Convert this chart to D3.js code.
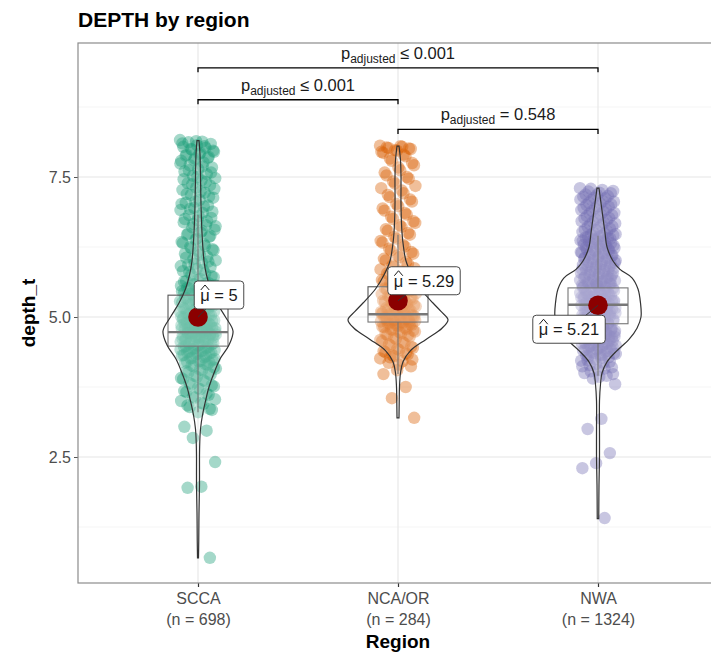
<!DOCTYPE html>
<html>
<head>
<meta charset="utf-8">
<script src="https://cdn.jsdelivr.net/npm/d3@7"></script>
<style>
body { margin: 0; background: #ffffff; }
text { font-family: "Liberation Sans", Arial, sans-serif; }
</style>
</head>
<body>
<div id="chart"></div>
<script>
// groups, counts and summary stats
var regions = ["SCCA", "NCA/OR", "NWA"];
var regionN = [698, 284, 1324];
var regionColor = ["#1B9E77", "#D95F02", "#7570B3"];
var means = [5.00, 5.29, 5.21];
var meanLabels = ["5", "5.29", "5.21"];
var q1 = [4.48, 4.91, 4.88];
var medians = [4.73, 5.05, 5.22];
var q3 = [5.39, 5.54, 5.52];
var whiskerLo = [3.30, 3.98, 3.95];
var whiskerHi = [6.82, 6.47, 6.45];
var yTicks = [2.5, 5.0, 7.5];
var yMinor = [1.25, 3.75, 6.25, 8.75];

// pairwise comparisons
var pairFrom = ["SCCA", "SCCA", "NCA/OR"];
var pairTo = ["NWA", "NCA/OR", "NWA"];
var pairY = [9.45, 8.88, 8.35];
var pairP = ["\u2264 0.001", "\u2264 0.001", "= 0.548"];

// depth_t values
var sccaDepth = [8.16, 8.13, 8.12, 8.09, 8.07, 8.04, 8.02, 7.99, 7.95, 7.93, 7.9, 7.86, 7.83, 7.79, 7.76, 7.71, 7.67, 7.64, 7.6, 7.55,
  7.52, 7.48, 7.44, 7.39, 7.35, 7.31, 7.27, 7.22, 7.18, 7.13, 7.09, 7.04, 6.99, 6.95, 6.91, 6.86, 6.82, 6.77, 6.73, 6.69,
  6.64, 6.6, 6.56, 6.51, 6.47, 6.43, 6.38, 6.34, 6.3, 6.25, 6.21, 6.17, 6.13, 6.08, 6.04, 6.01, 5.97, 5.93, 5.89, 5.86,
  5.82, 5.78, 5.75, 5.71, 5.68, 5.64, 5.61, 5.58, 5.56, 5.54, 5.51, 5.49, 5.47, 5.44, 5.42, 5.4, 5.38, 5.35, 5.33, 5.31,
  5.29, 5.26, 5.24, 5.22, 5.2, 5.18, 5.15, 5.13, 5.11, 5.09, 5.07, 5.05, 5.03, 5.01, 4.99, 4.97, 4.96, 4.94, 4.92, 4.9,
  4.88, 4.87, 4.85, 4.84, 4.82, 4.81, 4.79, 4.78, 4.77, 4.75, 4.74, 4.73, 4.71, 4.7, 4.69, 4.67, 4.66, 4.65, 4.63, 4.62,
  4.6, 4.59, 4.57, 4.56, 4.54, 4.52, 4.51, 4.49, 4.47, 4.45, 4.43, 4.41, 4.39, 4.37, 4.35, 4.33, 4.31, 4.28, 4.26, 4.23,
  4.21, 4.18, 4.15, 4.12, 4.08, 4.05, 4.01, 3.97, 3.93, 3.89, 3.85, 3.8, 3.76, 3.71, 3.66, 3.61, 3.56, 3.5, 3.45, 3.39,
  3.34, 3.3, 3.04, 2.97, 2.84, 2.41, 1.97, 1.95, 0.7,
  8.14, 8.1, 8.05, 8.0, 7.97, 7.91, 7.88, 7.84, 7.8, 7.74, 7.69, 7.62, 7.58, 7.5, 7.46, 7.41, 7.37, 7.29, 7.24, 7.2,
  7.15, 7.06, 7.02, 6.97, 6.93, 6.88, 6.8, 6.75, 6.71, 6.66, 6.62, 6.54, 6.49, 6.45, 6.4, 6.32, 6.27, 6.23, 6.19, 6.11,
  6.06, 5.99, 5.95, 5.91, 5.84, 5.8, 5.73, 5.66, 5.63, 5.6, 5.59, 5.57, 5.55, 5.52, 5.5, 5.48, 5.46, 5.43, 5.41, 5.39,
  5.36, 5.34, 5.32, 5.3, 5.28, 5.25, 5.23, 5.21, 5.19, 5.16, 5.14, 5.12, 5.1, 5.08, 5.06, 5.04, 5.02, 5.0, 4.98, 4.95,
  4.93, 4.91, 4.89, 4.86, 4.83, 4.8, 4.76, 4.72, 4.68, 4.64, 4.61, 4.58, 4.55, 4.53, 4.5, 4.48, 4.46, 4.44, 4.42, 4.4,
  4.38, 4.36, 4.34, 4.32, 4.3, 4.27, 4.25, 4.22, 4.2, 4.19, 4.83, 4.79, 4.75, 4.71, 4.67, 4.63, 4.59, 4.76, 4.72, 4.69,
  4.65, 4.8, 4.86, 4.9, 4.96, 4.16, 4.13, 4.1, 4.06, 4.03, 3.99, 3.95, 3.91, 3.87, 3.82, 3.78, 3.73, 3.68, 3.63, 3.58,
  3.53, 3.47, 3.42, 3.36];
var ncaDepth = [8.06, 8.04, 8.02, 8.0, 7.97, 7.93, 7.87, 7.79, 7.71, 7.62, 7.53, 7.47, 7.38, 7.3, 7.21, 7.14, 7.06, 6.98, 6.9, 6.83,
  6.75, 6.68, 6.61, 6.54, 6.47, 6.4, 6.33, 6.26, 6.19, 6.13, 6.07, 6.01, 5.95, 5.9, 5.85, 5.8, 5.76, 5.72, 5.68, 5.64,
  5.61, 5.58, 5.55, 5.52, 5.49, 5.46, 5.43, 5.41, 5.38, 5.35, 5.32, 5.3, 5.27, 5.24, 5.22, 5.19, 5.17, 5.14, 5.12, 5.1,
  5.08, 5.06, 5.04, 5.02, 5.0, 4.98, 4.96, 4.94, 4.92, 4.9, 4.88, 4.86, 4.84, 4.82, 4.79, 4.77, 4.74, 4.71, 4.68, 4.65,
  4.61, 4.57, 4.53, 4.49, 4.45, 4.41, 4.37, 4.33, 4.3, 4.26, 4.21, 4.18, 4.12, 4.05, 3.98, 3.75, 3.55, 3.2,
  8.05, 8.03, 8.01, 7.98, 7.95, 7.9, 7.83, 7.75, 7.67, 7.58, 7.5, 7.42, 7.34, 7.26, 7.18, 7.1, 7.02, 6.94, 6.86, 6.79,
  6.71, 6.64, 6.57, 6.5, 6.43, 6.36, 6.29, 6.22, 6.16, 6.1, 6.04, 5.98, 5.92, 5.87, 5.82, 5.78, 5.74, 5.7, 5.66, 5.62,
  5.6, 5.57, 5.54, 5.51, 5.48, 5.45, 5.42, 5.39, 5.37, 5.34, 5.31, 5.29, 5.26, 5.23, 5.21, 5.18, 5.16, 5.13, 5.11, 5.09,
  5.07, 5.05, 5.03, 5.01, 4.99, 4.97, 4.95, 4.93, 4.91, 4.89, 4.87, 4.85, 4.83, 4.81, 4.78, 4.76, 4.73, 4.7, 4.67, 4.63,
  4.59, 4.55, 4.51, 4.47, 4.43, 4.39, 4.35, 4.32, 5.0, 4.98, 4.95, 4.92, 4.89, 5.06, 5.12, 4.28, 4.24, 4.15];
var nwaDepth = [7.3, 7.27, 7.24, 7.21, 7.18, 7.15, 7.12, 7.09, 7.06, 7.03, 7.0, 6.97, 6.94, 6.91, 6.88, 6.85, 6.82, 6.79, 6.76, 6.73,
  6.7, 6.67, 6.64, 6.61, 6.58, 6.55, 6.52, 6.49, 6.47, 6.46, 6.44, 6.42, 6.41, 6.39, 6.37, 6.35, 6.34, 6.32, 6.3, 6.29,
  6.27, 6.25, 6.23, 6.22, 6.2, 6.18, 6.17, 6.15, 6.13, 6.11, 6.1, 6.08, 6.06, 6.05, 6.03, 6.01, 5.99, 5.98, 5.96, 5.94,
  5.93, 5.91, 5.89, 5.87, 5.86, 5.84, 5.82, 5.81, 5.79, 5.77, 5.75, 5.74, 5.72, 5.7, 5.69, 5.67, 5.65, 5.63, 5.62, 5.6,
  5.58, 5.57, 5.55, 5.53, 5.51, 5.5, 5.48, 5.46, 5.45, 5.43, 5.41, 5.39, 5.38, 5.36, 5.34, 5.33, 5.31, 5.29, 5.27, 5.26,
  5.24, 5.22, 5.21, 5.19, 5.17, 5.15, 5.14, 5.12, 5.1, 5.09, 5.07, 5.05, 5.03, 5.02, 5.0, 4.98, 4.97, 4.95, 4.93, 4.91,
  4.9, 4.88, 4.86, 4.85, 4.83, 4.81, 4.79, 4.78, 4.76, 4.74, 4.73, 4.71, 4.69, 4.67, 4.66, 4.64, 4.62, 4.61, 4.59, 4.57,
  4.55, 4.54, 4.52, 4.5, 4.49, 4.47, 4.45, 4.43, 4.42, 4.4, 4.38, 4.37, 4.35, 4.33, 4.31, 4.28, 4.25, 4.22, 4.18, 4.14,
  4.1, 4.05, 4.0, 3.95, 3.9, 3.8, 3.18, 3.0, 2.57, 2.39, 2.3, 1.41,
  7.29, 7.25, 7.22, 7.19, 7.16, 7.13, 7.1, 7.07, 7.04, 7.01, 6.98, 6.95, 6.92, 6.89, 6.86, 6.83, 6.8, 6.77, 6.74, 6.71,
  6.68, 6.65, 6.62, 6.59, 6.56, 6.53, 6.5, 6.48, 6.45, 6.43, 6.4, 6.38, 6.36, 6.33, 6.31, 6.28, 6.26, 6.24, 6.21, 6.19,
  6.16, 6.14, 6.12, 6.09, 6.07, 6.04, 6.02, 6.0, 5.97, 5.95, 5.92, 5.9, 5.88, 5.85, 5.83, 5.8, 5.78, 5.76, 5.73, 5.71,
  5.68, 5.66, 5.64, 5.61, 5.59, 5.56, 5.54, 5.52, 5.49, 5.47, 5.44, 5.42, 5.4, 5.37, 5.35, 5.32, 5.3, 5.28, 5.25, 5.23,
  5.2, 5.18, 5.16, 5.13, 5.11, 5.08, 5.06, 5.04, 5.01, 4.99, 4.96, 4.94, 4.92, 4.89, 4.87, 4.84, 4.82, 4.8, 4.77, 4.75,
  4.72, 4.7, 4.68, 4.65, 4.63, 4.6, 4.58, 4.56, 4.53, 4.51, 4.48, 4.46, 4.44, 4.41, 4.39, 4.36, 4.34, 4.32, 4.3, 5.68,
  5.6, 5.52, 5.44, 5.36, 5.28, 5.2, 5.12, 5.04, 4.96, 4.88, 4.8, 4.72, 4.64, 5.55, 5.35, 5.15, 4.95, 4.75, 4.27,
  4.23, 4.2, 4.16, 4.12, 4.08, 4.03, 3.98, 3.93];

// violin outlines: [depth_t, relative density]
var sccaViolin = [[8.15, 0.02], [7.9, 0.04], [7.5, 0.05], [7.0, 0.06], [6.5, 0.08], [6.0, 0.12], [5.75, 0.17], [5.5, 0.25],
  [5.25, 0.38], [5.0, 0.55], [4.75, 0.70], [4.5, 0.62], [4.25, 0.44], [4.0, 0.32], [3.75, 0.22], [3.5, 0.15], [3.25, 0.09],
  [3.0, 0.05], [2.75, 0.035], [2.5, 0.03], [2.0, 0.03], [1.5, 0.02], [1.0, 0.015], [0.7, 0.01]];
var ncaViolin = [[8.05, 0.02], [7.8, 0.05], [7.5, 0.06], [7.0, 0.06], [6.5, 0.08], [6.25, 0.11], [6.0, 0.16], [5.75, 0.28],
  [5.5, 0.45], [5.25, 0.7], [5.1, 0.86], [4.95, 1.0], [4.8, 0.88], [4.6, 0.56], [4.4, 0.25], [4.2, 0.1], [4.0, 0.05],
  [3.75, 0.03], [3.5, 0.025], [3.2, 0.02]];
var nwaViolin = [[7.3, 0.02], [7.1, 0.05], [6.9, 0.08], [6.7, 0.11], [6.5, 0.14], [6.25, 0.18], [6.0, 0.3], [5.85, 0.44],
  [5.7, 0.68], [5.5, 0.8], [5.25, 0.85], [5.0, 0.86], [4.8, 0.78], [4.6, 0.62], [4.4, 0.38], [4.2, 0.18], [4.0, 0.08],
  [3.8, 0.05], [3.5, 0.03], [3.0, 0.03], [2.5, 0.03], [2.0, 0.02], [1.4, 0.015]];

var depthGroups = [sccaDepth, ncaDepth, nwaDepth];
var violinGroups = [sccaViolin, ncaViolin, nwaViolin];

var W = 711, H = 653;
var panel = {left: 78, top: 43, right: 718, bottom: 583};

var svg = d3.select("#chart").append("svg")
  .attr("width", W).attr("height", H);

var x = d3.scalePoint().domain(regions).range([panel.left, panel.right]).padding(0.6);
var y = d3.scaleLinear().domain([0.25, 9.893]).range([panel.bottom, panel.top]);
// violin half width: 0.5 of a step for the widest group
var dens = d3.scaleLinear().domain([0, 1]).range([0, x.step() * 0.25]);
var boxHalf = x.step() * 0.15;

// panel + grid
svg.append("rect").attr("x", panel.left).attr("y", panel.top)
  .attr("width", panel.right - panel.left).attr("height", panel.bottom - panel.top)
  .attr("fill", "#ffffff");
svg.append("g").selectAll("line").data(yMinor).enter().append("line")
  .attr("x1", panel.left).attr("x2", panel.right)
  .attr("y1", function(d) { return y(d); }).attr("y2", function(d) { return y(d); })
  .attr("stroke", "#f2f2f2").attr("stroke-width", 0.8);
svg.append("g").selectAll("line").data(yTicks).enter().append("line")
  .attr("x1", panel.left).attr("x2", panel.right)
  .attr("y1", function(d) { return y(d); }).attr("y2", function(d) { return y(d); })
  .attr("stroke", "#e6e6e6").attr("stroke-width", 1.1);
svg.append("g").selectAll("line").data(regions).enter().append("line")
  .attr("y1", panel.top).attr("y2", panel.bottom)
  .attr("x1", function(d) { return x(d); }).attr("x2", function(d) { return x(d); })
  .attr("stroke", "#e6e6e6").attr("stroke-width", 1.1);

// jittered points (golden-ratio spread, not random)
function jitter(i) { return (((i * 0.6180339887) % 1) - 0.5) * 36; }
depthGroups.forEach(function(vals, gi) {
  svg.append("g").selectAll("circle").data(vals).enter().append("circle")
    .attr("cx", function(d, i) { return x(regions[gi]) + jitter(i); })
    .attr("cy", function(d) { return y(d); })
    .attr("r", 6.2)
    .attr("fill", regionColor[gi])
    .attr("fill-opacity", 0.4);
});

// boxplots
regions.forEach(function(r, gi) {
  var cx = x(r);
  var g = svg.append("g");
  g.append("line").attr("x1", cx).attr("x2", cx).attr("y1", y(q3[gi])).attr("y2", y(whiskerHi[gi]))
    .attr("stroke", "#555").attr("stroke-width", 1.1);
  g.append("line").attr("x1", cx).attr("x2", cx).attr("y1", y(q1[gi])).attr("y2", y(whiskerLo[gi]))
    .attr("stroke", "#555").attr("stroke-width", 1.1);
  g.append("rect").attr("x", cx - boxHalf).attr("width", boxHalf * 2)
    .attr("y", y(q3[gi])).attr("height", y(q1[gi]) - y(q3[gi]))
    .attr("fill", "#ffffff").attr("fill-opacity", 0.2)
    .attr("stroke", "#555").attr("stroke-width", 1.1);
  g.append("line").attr("x1", cx - boxHalf).attr("x2", cx + boxHalf)
    .attr("y1", y(medians[gi])).attr("y2", y(medians[gi]))
    .attr("stroke", "#555").attr("stroke-width", 2.4);
});

// violins
regions.forEach(function(r, gi) {
  var cx = x(r);
  var area = d3.area().curve(d3.curveCatmullRom)
    .y(function(d) { return y(d[0]); })
    .x0(function(d) { return cx - dens(d[1]); })
    .x1(function(d) { return cx + dens(d[1]); });
  svg.append("path").datum(violinGroups[gi]).attr("d", area)
    .attr("fill", "#ffffff").attr("fill-opacity", 0.2)
    .attr("stroke", "#333").attr("stroke-width", 1.2);
});

// mean points and labels
var labelOffset = [[21, -22], [26, -20], [-29, 24]];
regions.forEach(function(r, gi) {
  var cx = x(r), cy = y(means[gi]);
  var lx = cx + labelOffset[gi][0], ly = cy + labelOffset[gi][1];
  svg.append("circle").attr("cx", cx).attr("cy", cy).attr("r", 9.8).attr("fill", "#8B0000");
  svg.append("line").attr("x1", cx).attr("y1", cy).attr("x2", lx).attr("y2", ly)
    .attr("stroke", "#333").attr("stroke-width", 1);
  var lg = svg.append("g");
  var box = lg.append("rect");
  var t = lg.append("text").attr("x", lx).attr("y", ly + 6).attr("text-anchor", "middle")
    .attr("font-size", 16.5).attr("fill", "#1a1a1a");
  t.append("tspan").text("\u03BC");
  t.append("tspan").text(" = " + meanLabels[gi]);
  var bb = t.node().getBBox();
  box.attr("x", bb.x - 6).attr("y", ly - 14).attr("width", bb.width + 12).attr("height", 28)
    .attr("rx", 3.5).attr("fill", "#ffffff").attr("stroke", "#333").attr("stroke-width", 0.9);
  // hat over mu
  var mu = t.node().getExtentOfChar(0);
  lg.append("path")
    .attr("d", "M" + (mu.x + 0.5) + "," + (ly - 5) + "L" + (mu.x + mu.width / 2) + "," + (ly - 10) +
      "L" + (mu.x + mu.width - 0.5) + "," + (ly - 5))
    .attr("fill", "none").attr("stroke", "#1a1a1a").attr("stroke-width", 1);
});

// significance brackets
var tip = 0.08;
pairFrom.forEach(function(f, i) {
  var x1 = x(f), x2 = x(pairTo[i]), yy = y(pairY[i]);
  svg.append("path")
    .attr("d", "M" + x1 + "," + y(pairY[i] - tip) + "L" + x1 + "," + yy + "L" + x2 + "," + yy +
      "L" + x2 + "," + y(pairY[i] - tip))
    .attr("fill", "none").attr("stroke", "#000").attr("stroke-width", 1.3);
  var t = svg.append("text").attr("x", (x1 + x2) / 2).attr("y", yy - 9).attr("text-anchor", "middle")
    .attr("font-size", 16.5).attr("fill", "#1a1a1a");
  t.append("tspan").text("p");
  t.append("tspan").attr("font-size", 12).attr("dy", 4).text("adjusted");
  t.append("tspan").attr("dy", -4).text(" " + pairP[i]);
});

// axes
var gy = svg.append("g").attr("transform", "translate(" + panel.left + ",0)")
  .call(d3.axisLeft(y).tickValues(yTicks).tickFormat(d3.format(".1f")).tickSize(4));
gy.select(".domain").remove();
gy.selectAll(".tick line").attr("stroke", "#555");
gy.selectAll(".tick text").attr("font-size", 16).attr("fill", "#4d4d4d").style("font-family", "Liberation Sans");

var gx = svg.append("g").attr("transform", "translate(0," + panel.bottom + ")")
  .call(d3.axisBottom(x).tickSize(4));
gx.select(".domain").remove();
gx.selectAll(".tick line").attr("stroke", "#333").attr("stroke-width", 1.2);
gx.selectAll(".tick text").text(null).attr("y", 9).attr("dy", null)
  .attr("font-size", 16).attr("fill", "#4d4d4d").style("font-family", "Liberation Sans")
  .each(function(d, i) {
    var t = d3.select(this);
    t.append("tspan").attr("x", 0).attr("dy", "0.75em").text(d);
    t.append("tspan").attr("x", 0).attr("dy", "1.3em").text("(n = " + regionN[i] + ")");
  });

// panel border
svg.append("rect").attr("x", panel.left).attr("y", panel.top)
  .attr("width", panel.right - panel.left).attr("height", panel.bottom - panel.top)
  .attr("fill", "none").attr("stroke", "#8c8c8c").attr("stroke-width", 1.2);

// titles
svg.append("text").attr("x", panel.left).attr("y", 27).attr("font-size", 21).attr("font-weight", "bold")
  .attr("fill", "#000").text("DEPTH by region");
svg.append("text").attr("transform", "translate(35," + ((panel.top + panel.bottom) / 2) + ")rotate(-90)")
  .attr("text-anchor", "middle").attr("font-size", 19).attr("font-weight", "bold").text("depth_t");
svg.append("text").attr("x", (panel.left + panel.right) / 2).attr("y", 648).attr("text-anchor", "middle")
  .attr("font-size", 19).attr("font-weight", "bold").text("Region");
</script>
</body>
</html>
